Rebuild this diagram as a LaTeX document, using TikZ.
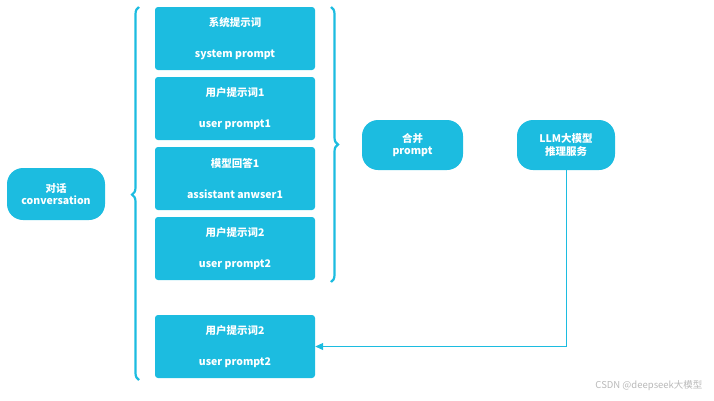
\documentclass[tikz,border=0pt]{standalone}
\usepackage{fontspec}
\setmainfont{Noto Sans CJK SC}
\usetikzlibrary{decorations.pathreplacing,arrows.meta}
\definecolor{cy}{HTML}{1CBCE0}
\begin{document}
\begin{tikzpicture}[x=1pt,y=-1pt,font=\fontsize{10.5}{12.5}\selectfont\bfseries,
  box/.style={fill=cy,rounded corners=3pt,text=white,align=center,inner sep=0pt},
  pill/.style={fill=cy,rounded corners=16pt,text=white,align=center,inner sep=0pt},
  br/.style={draw=cy,line width=2.2pt,decorate,decoration={brace,amplitude=7pt,aspect=0.5}}]
\useasboundingbox (0,0) rectangle (714,400);
\node[box,minimum width=160pt,minimum height=63pt] (b1) at (235,38.5) {系统提示词\\[19pt]system prompt};
\node[box,minimum width=160pt,minimum height=63pt] (b2) at (235,108.5) {用户提示词1\\[19pt]user prompt1};
\node[box,minimum width=160pt,minimum height=63pt] (b3) at (235,178.5) {模型回答1\\[19pt]assistant anwser1};
\node[box,minimum width=160pt,minimum height=63pt] (b4) at (235,248.5) {用户提示词2\\[19pt]user prompt2};
\node[box,minimum width=160pt,minimum height=63pt] (b5) at (235,346.5) {用户提示词2\\[19pt]user prompt2};
\node[pill,minimum width=98pt,minimum height=52pt] (conv) at (56,194) {对话\\conversation};
\node[pill,minimum width=101pt,minimum height=50pt] (merge) at (412.5,145) {合并\\prompt};
\node[pill,minimum width=98pt,minimum height=50pt] (llm) at (566,145) {LLM大模型\\推理服务};
\coordinate (l1) at (139,380); \coordinate (l2) at (139,7);
\coordinate (r1) at (331,7); \coordinate (r2) at (331,282);
\draw[br,decoration={aspect=0.497}] (l1) -- (l2);
\draw[br,decoration={aspect=0.5}] (r1) -- (r2);
\draw[cy,line width=1pt,-{Triangle[length=8pt,width=7pt]}] (llm.south) |- (b5.east);
\node[text=gray!55,anchor=east,font=\fontsize{9.5}{10}\selectfont] (wm) at (706,386) {CSDN @deepseek大模型};
\end{tikzpicture}
\end{document}
